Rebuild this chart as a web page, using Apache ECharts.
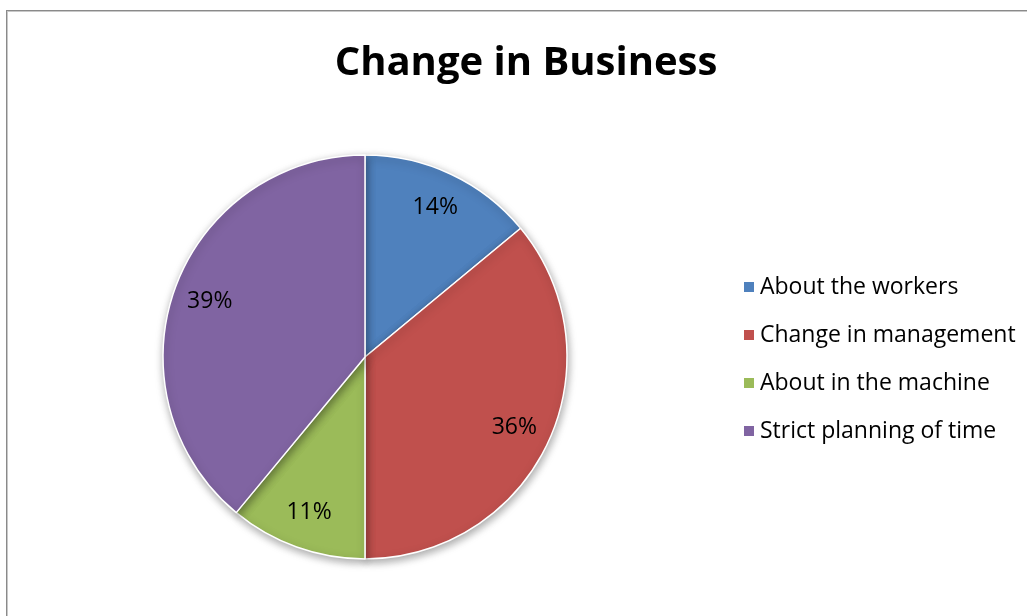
<!DOCTYPE html>
<html>
<head>
<meta charset="utf-8">
<script src="https://cdn.jsdelivr.net/npm/echarts@6/dist/echarts.min.js"></script>
<style>
html,body{margin:0;padding:0;background:#fff;}
#wrap{position:relative;width:1027px;height:616px;overflow:hidden;}
#frame{position:absolute;left:6px;top:10px;width:1100px;height:700px;border:1px solid #8a8a8a;box-shadow:1px 1px 0 #c8c8c8 inset;}
#chart{position:absolute;left:0;top:0;width:1027px;height:616px;}
</style>
</head>
<body>
<div id="wrap"><div id="frame"></div><div id="chart"></div></div>
<script>
const titleText = 'Change in Business';
const categories = ['About the workers', 'Change in management', 'About in the machine', 'Strict planning of time'];
const values = [14, 36, 11, 39];
const colors = ['#4F81BD', '#C0504D', '#9BBB59', '#8064A2'];

const data = categories.map((c, i) => ({ name: c, value: values[i] }));
const font = '"Open Sans", "Noto Sans", sans-serif';

const chart = echarts.init(document.getElementById('chart'), null, { renderer: 'canvas' });
chart.setOption({
  backgroundColor: 'transparent',
  animation: false,
  color: colors,
  title: {
    text: titleText,
    left: 525, top: 39, textAlign: 'center',
    textStyle: { fontFamily: font, fontWeight: 'bold', fontSize: 40, color: '#000' }
  },
  legend: {
    orient: 'vertical',
    left: 737, top: 270,
    icon: 'rect',
    itemWidth: 12, itemHeight: 12,
    itemGap: 24,
    data: categories,
    textStyle: { fontFamily: font, fontSize: 23, color: '#000', padding: [0, 0, 0, 0], lineHeight: 24 }
  },
  series: [
    {
      type: 'pie',
      center: [365, 357],
      radius: [0, 202],
      startAngle: 90,
      clockwise: true,
      silent: true,
      label: { show: false },
      labelLine: { show: false },
      itemStyle: {
        borderColor: '#fff', borderWidth: 1.5,
        shadowBlur: 8, shadowColor: 'rgba(0,0,0,0.35)', shadowOffsetX: 1, shadowOffsetY: 3
      },
      data: data
    },
    {
      type: 'pie',
      center: [365, 357],
      radius: [122, 202],
      startAngle: 90,
      clockwise: true,
      silent: true,
      legendHoverLink: false,
      itemStyle: { color: 'rgba(0,0,0,0)', borderWidth: 0 },
      label: {
        show: true, position: 'inside',
        formatter: p => p.value + '%',
        fontFamily: font, fontSize: 23, color: '#000'
      },
      labelLine: { show: false },
      data: data
    }
  ]
});
// shift title slightly left to match reference
chart.setOption({ title: { left: 521 } });
</script>
</body>
</html>
